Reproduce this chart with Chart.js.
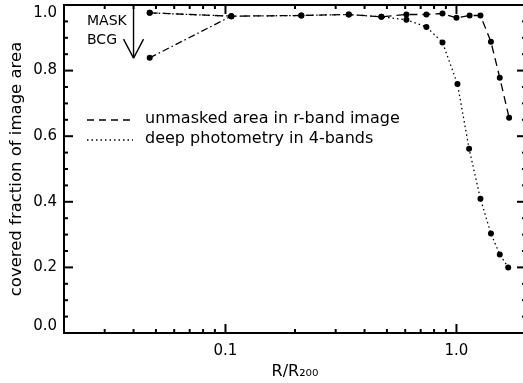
<!DOCTYPE html>
<html>
<head>
<meta charset="utf-8">
<script src="https://cdn.jsdelivr.net/npm/chart.js@4"></script>
<style>
  html, body { margin: 0; padding: 0; background: #fff; overflow: hidden; }
  canvas { display: block; }
</style>
</head>
<body>
<canvas id="coverageChart" width="530" height="383"></canvas>
<script>
// radii in units of R200, covered fractions per radial bin
const radiusUnmasked = [0.047, 0.106, 0.213, 0.342, 0.473, 0.607, 0.741, 0.87, 1.0, 1.14, 1.27, 1.41, 1.54, 1.69];
const coverUnmasked  = [0.976, 0.966, 0.968, 0.971, 0.964, 0.971, 0.971, 0.974, 0.961, 0.968, 0.968, 0.888, 0.778, 0.656];

const radiusDeep = [0.047, 0.106, 0.213, 0.342, 0.473, 0.607, 0.741, 0.87, 1.01, 1.134, 1.27, 1.41, 1.54, 1.675];
const coverDeep  = [0.976, 0.966, 0.968, 0.971, 0.964, 0.955, 0.933, 0.886, 0.759, 0.562, 0.409, 0.303, 0.239, 0.200];

// innermost bin with the BCG masked out
const radiusBcg = [0.047, 0.106];
const coverBcg  = [0.839, 0.966];

const xTickValues = [0.1, 1.0];
const xTickLabels = ["0.1", "1.0"];
const yTickValues = [0.0, 0.2, 0.4, 0.6, 0.8, 1.0];
const yTickLabels = ["0.0", "0.2", "0.4", "0.6", "0.8", "1.0"];
const legendLabels = ["unmasked area in r-band image", "deep photometry in 4-bands"];

const FONT = '"DejaVu Sans", sans-serif';

function pairs(xs, ys) {
    return xs.map((x, i) => ({ x: x, y: ys[i] }));
}

function seg(ctx, x1, y1, x2, y2) {
    ctx.beginPath();
    ctx.moveTo(x1, y1);
    ctx.lineTo(x2, y2);
    ctx.stroke();
}

// Box frame with inward ticks, y labels, legend and the BCG marker
const framePlugin = {
    id: "frame",
    afterDraw(chart) {
        const { ctx, chartArea: a, scales: { x, y } } = chart;
        ctx.save();
        ctx.strokeStyle = "#000";
        ctx.fillStyle = "#000";
        ctx.lineWidth = 2;
        ctx.strokeRect(a.left, a.top, a.right - a.left, a.bottom - a.top);

        // y ticks, minor every 0.05
        for (let i = 0; i <= 20; i++) {
            const py = y.getPixelForValue(i * 0.05);
            const len = i % 4 === 0 ? 9 : 4;
            seg(ctx, a.left, py, a.left + len, py);
            seg(ctx, a.right, py, a.right - len, py);
        }
        // x ticks per decade
        [0.01, 0.1, 1].forEach(d => {
            for (let k = 1; k <= 9; k++) {
                const v = d * k;
                if (v < x.min - 1e-9 || v > x.max + 1e-9) continue;
                const px = x.getPixelForValue(v);
                const len = k === 1 ? 9 : 4;
                seg(ctx, px, a.bottom, px, a.bottom - len);
                seg(ctx, px, a.top, px, a.top + len);
            }
        });

        // y labels, kept inside the frame at the ends
        ctx.font = "15px " + FONT;
        ctx.textAlign = "right";
        ctx.textBaseline = "middle";
        yTickValues.forEach((v, i) => {
            let py = y.getPixelForValue(v);
            py = Math.min(Math.max(py, a.top + 8), a.bottom - 7);
            ctx.fillText(yTickLabels[i], a.left - 7, py);
        });

        // legend
        ctx.textAlign = "left";
        ctx.font = "16px " + FONT;
        const dashes = [[7, 5], [1.5, 3]];
        [120, 140].forEach((ly, i) => {
            ctx.lineWidth = 1.3;
            ctx.setLineDash(dashes[i]);
            seg(ctx, a.left + 23, ly, a.left + 69, ly);
            ctx.setLineDash([]);
            ctx.fillText(legendLabels[i], a.left + 81, ly - 1);
        });

        // BCG mask arrow
        const ax = x.getPixelForValue(0.04);
        const top = y.getPixelForValue(0.99);
        const tip = y.getPixelForValue(0.838);
        ctx.lineWidth = 1.4;
        seg(ctx, ax, top, ax, tip);
        seg(ctx, ax - 10, tip - 19, ax, tip);
        seg(ctx, ax + 10, tip - 19, ax, tip);
        ctx.font = "14px " + FONT;
        ctx.fillText("MASK", a.left + 23, 21);
        ctx.fillText("BCG", a.left + 23, 40);
        ctx.restore();
    }
};

const common = {
    borderColor: "#000",
    borderWidth: 1.3,
    pointRadius: 3,
    pointBackgroundColor: "#000",
    pointBorderWidth: 0,
    fill: false,
    tension: 0
};

new Chart(document.getElementById("coverageChart"), {
    type: "line",
    data: {
        datasets: [
            Object.assign({ label: legendLabels[0], data: pairs(radiusUnmasked, coverUnmasked), borderDash: [8, 5] }, common),
            Object.assign({ label: legendLabels[1], data: pairs(radiusDeep, coverDeep), borderDash: [1.5, 3] }, common),
            Object.assign({ label: "BCG masked", data: pairs(radiusBcg, coverBcg), borderDash: [7, 3, 1.5, 3] }, common)
        ]
    },
    options: {
        responsive: false,
        animation: false,
        layout: { padding: { top: 5, right: 4, left: 0, bottom: 0 } },
        plugins: { legend: { display: false }, tooltip: { enabled: false } },
        scales: {
            x: {
                type: "logarithmic",
                min: 0.02,
                max: 2.0,
                grid: { display: false, drawTicks: false },
                border: { display: false },
                afterBuildTicks: scale => {
                    scale.ticks = xTickValues.map(v => ({ value: v }));
                },
                afterFit: scale => { scale.height = 50; },
                ticks: {
                    autoSkip: false,
                    maxRotation: 0,
                    padding: 9,
                    color: "#000",
                    font: { family: FONT, size: 15 },
                    callback: (value, index) => xTickLabels[index]
                },
                title: {
                    display: true,
                    text: "R/R₂₀₀",
                    color: "#000",
                    font: { family: FONT, size: 16 },
                    padding: { top: 0, bottom: 2 }
                }
            },
            y: {
                min: 0,
                max: 1,
                grid: { display: false, drawTicks: false },
                border: { display: false },
                ticks: { display: false },
                afterFit: scale => { scale.width = 64; },
                title: {
                    display: true,
                    text: "covered fraction of image area",
                    color: "#000",
                    font: { family: FONT, size: 16.5 },
                    padding: { top: 7, bottom: 0 }
                }
            }
        }
    },
    plugins: [framePlugin]
});
</script>
</body>
</html>
